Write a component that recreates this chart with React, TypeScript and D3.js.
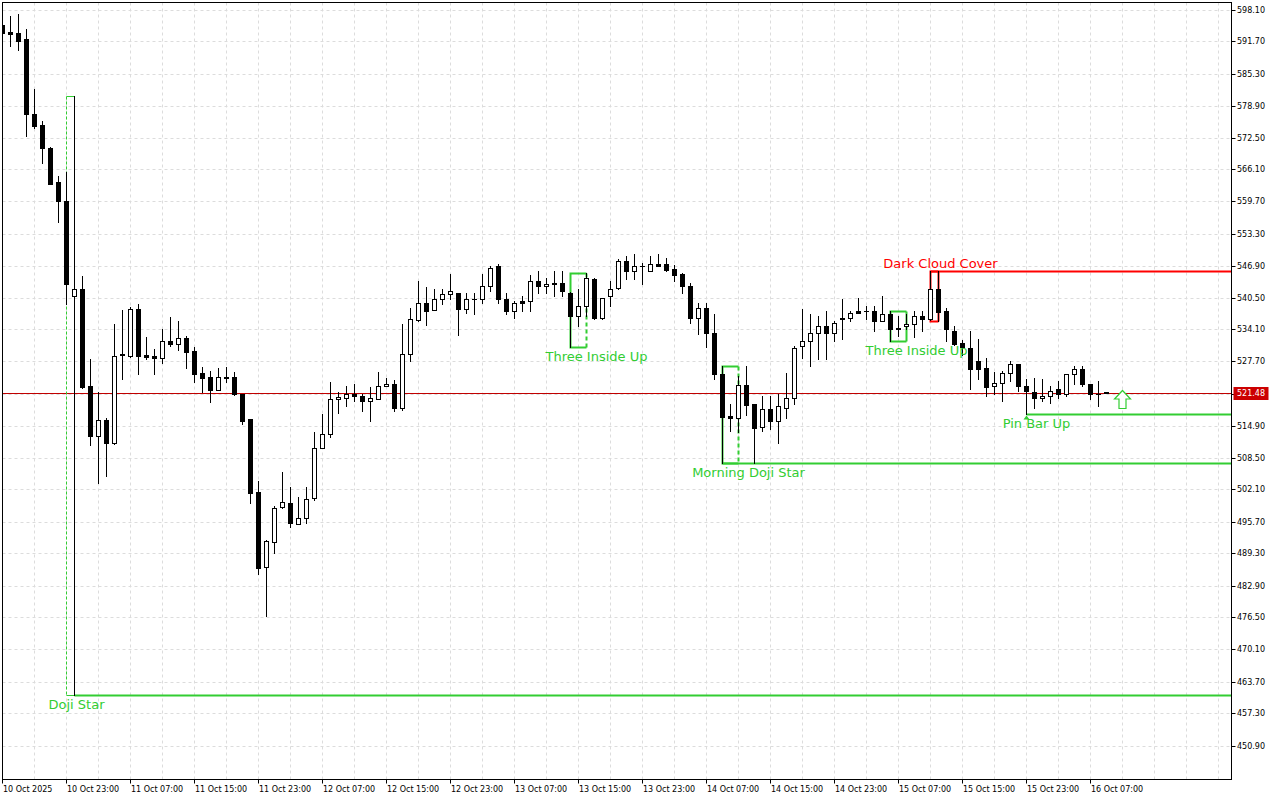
import * as d3 from "d3";
import { useEffect, useRef } from "react";

// hourly bars, first bar = 10 Oct 2025 15:00
const opens = [
  595.0, 593.6, 593.4, 592.2, 577.2, 575.0, 570.5, 563.6, 559.8, 540.9,
  542.1, 522.8, 512.8, 516.0, 511.4, 529.1, 528.8, 538.3, 529.0, 528.8,
  528.5, 531.9, 531.2, 532.4, 529.8, 525.4, 524.6, 522.0, 524.6, 524.6,
  521.3, 516.1, 501.6, 486.6, 491.6, 498.5, 499.3, 495.2, 496.5, 500.3,
  510.3, 513.1, 520.1, 520.5, 521.2, 520.9, 519.8, 520.3, 522.7, 523.3,
  518.5, 529.1, 536.0, 539.5, 538.0, 540.1, 541.3, 541.5, 538.3, 540.3,
  540.1, 542.7, 546.8, 540.1, 537.7, 539.7, 539.7, 543.9, 542.9, 543.1,
  543.5, 541.5, 536.9, 538.7, 544.3, 536.5, 540.7, 542.5, 547.9, 545.7,
  546.9, 545.9, 547.3, 547.1, 546.2, 545.2, 542.7, 536.5, 538.5, 533.5,
  525.1, 516.8, 516.5, 523.0, 519.2, 514.5, 518.1, 515.9, 518.5, 520.5,
  530.7, 531.7, 533.5, 534.9, 533.5, 536.1, 536.5, 537.7, 537.9, 537.9,
  535.9, 537.1, 534.5, 534.7, 535.3, 536.7, 536.3, 542.1, 537.7, 533.9,
  531.5, 530.5, 527.7, 526.4, 522.9, 523.5, 525.5, 527.1, 522.7, 521.5,
  520.5, 520.9, 522.1, 521.1, 525.3, 526.1, 523.1, 521.3, 521.5,
];
const highs = [
  595.3, 596.8, 597.2, 594.2, 582.2, 575.8, 570.6, 564.8, 565.6, 580.9,
  544.7, 528.1, 521.6, 516.4, 535.2, 538.0, 538.6, 539.3, 532.6, 530.2,
  534.2, 536.6, 535.8, 532.8, 530.6, 526.6, 525.8, 526.4, 526.6, 525.6,
  521.3, 516.2, 503.8, 492.0, 498.8, 505.6, 502.6, 500.7, 502.7, 513.6,
  517.1, 523.6, 521.5, 522.8, 523.1, 521.3, 522.6, 525.6, 524.4, 524.0,
  535.2, 538.5, 543.9, 542.6, 542.2, 542.2, 545.2, 541.5, 541.5, 541.5,
  545.3, 546.8, 547.3, 541.5, 539.9, 540.9, 545.0, 545.7, 544.4, 545.7,
  545.7, 541.6, 542.1, 545.5, 544.5, 540.5, 543.9, 548.1, 548.9, 549.1,
  547.5, 548.7, 549.1, 548.5, 547.0, 545.4, 543.5, 539.5, 539.5, 537.3,
  526.8, 519.3, 524.8, 526.9, 519.2, 520.9, 520.9, 521.1, 525.5, 530.7,
  538.1, 537.1, 536.7, 537.7, 535.9, 540.3, 537.9, 540.5, 538.9, 538.9,
  540.9, 537.9, 536.7, 537.3, 537.7, 537.9, 545.9, 545.9, 538.5, 534.7,
  532.0, 533.7, 532.1, 528.5, 525.6, 525.9, 527.7, 527.3, 524.3, 524.5,
  524.1, 522.9, 523.7, 525.3, 526.9, 526.9, 523.1, 523.7, 521.6,
];
const lows = [
  593.2, 590.8, 590.0, 572.8, 574.4, 567.4, 563.2, 555.6, 539.3, 461.0,
  522.4, 511.0, 503.4, 504.8, 511.1, 524.2, 528.6, 525.1, 528.1, 525.2,
  527.4, 530.8, 530.0, 526.4, 523.6, 521.6, 519.6, 522.0, 523.6, 521.0,
  515.2, 499.4, 485.1, 476.8, 489.3, 498.3, 494.7, 495.1, 495.3, 500.0,
  510.3, 512.6, 517.4, 518.8, 519.8, 517.8, 515.8, 520.3, 522.7, 517.8,
  518.0, 527.8, 535.8, 535.0, 538.0, 539.1, 540.1, 533.0, 537.4, 537.3,
  539.5, 541.7, 539.5, 537.3, 536.5, 537.7, 537.7, 541.5, 541.5, 540.7,
  540.9, 530.6, 534.8, 536.7, 536.3, 536.3, 538.7, 542.1, 544.3, 544.3,
  543.1, 545.7, 546.7, 545.7, 543.8, 541.5, 535.5, 533.3, 530.6, 524.3,
  507.3, 513.9, 513.6, 517.0, 507.3, 513.9, 514.2, 511.5, 516.5, 519.3,
  528.5, 526.7, 528.1, 528.1, 531.9, 532.1, 535.9, 537.5, 536.3, 533.9,
  535.8, 531.7, 532.7, 534.1, 532.5, 533.9, 536.0, 535.7, 531.7, 531.0,
  529.0, 522.1, 524.3, 520.9, 521.1, 519.9, 523.7, 521.9, 517.1, 518.5,
  519.7, 519.5, 520.5, 520.9, 523.1, 522.9, 520.1, 518.7, 521.4,
];
const closes = [
  593.4, 593.2, 591.8, 577.2, 574.8, 570.4, 563.3, 559.8, 543.1, 542.1,
  522.6, 512.8, 516.0, 511.4, 528.9, 529.0, 538.3, 528.8, 528.6, 528.4,
  531.9, 531.2, 532.4, 529.6, 525.2, 524.4, 522.0, 524.6, 524.5, 521.2,
  515.9, 501.4, 486.4, 491.8, 498.4, 499.5, 495.3, 496.5, 500.1, 510.3,
  513.1, 520.1, 520.6, 521.2, 520.8, 519.8, 520.4, 522.7, 523.3, 518.4,
  529.1, 536.1, 539.5, 537.8, 540.1, 541.3, 541.7, 538.2, 540.2, 540.1,
  542.7, 546.5, 540.1, 537.7, 539.5, 539.5, 543.9, 542.9, 543.3, 543.5,
  541.7, 536.7, 538.7, 544.5, 536.5, 540.5, 542.3, 547.9, 545.7, 546.9,
  546.7, 547.3, 546.9, 546.0, 545.0, 542.7, 536.5, 538.5, 533.5, 525.3,
  516.6, 516.5, 523.0, 519.0, 514.4, 518.1, 515.8, 518.7, 520.5, 530.5,
  531.7, 533.5, 534.9, 533.5, 535.5, 536.5, 537.5, 537.5, 537.7, 535.9,
  537.1, 534.3, 534.3, 535.3, 536.7, 536.3, 542.1, 537.6, 534.1, 531.3,
  530.6, 526.1, 526.3, 522.6, 523.5, 525.5, 527.1, 522.7, 521.7, 520.5,
  520.9, 521.7, 521.3, 525.3, 526.1, 523.1, 521.1, 521.1, 521.48,
];

const priceTicks = [
  598.1, 591.7, 585.3, 578.9, 572.5, 566.1, 559.7, 553.3, 546.9, 540.5,
  534.1, 527.7, 521.3, 514.9, 508.5, 502.1, 495.7, 489.3, 482.9, 476.5,
  470.1, 463.7, 457.3, 450.9,
];
// one label every 8 bars
const timeLabels = [
  "10 Oct 2025", "10 Oct 23:00", "11 Oct 07:00", "11 Oct 15:00", "11 Oct 23:00",
  "12 Oct 07:00", "12 Oct 15:00", "12 Oct 23:00", "13 Oct 07:00", "13 Oct 15:00",
  "13 Oct 23:00", "14 Oct 07:00", "14 Oct 15:00", "14 Oct 23:00", "15 Oct 07:00",
  "15 Oct 15:00", "15 Oct 23:00", "16 Oct 07:00",
];
const lastPrice = 521.48;

const patternNames = ["Doji Star", "Three Inside Up", "Morning Doji Star", "Three Inside Up", "Dark Cloud Cover", "Pin Bar Up"];
const patternFrom = [8, 71, 90, 111, 116, 128];
const patternTo = [9, 73, 92, 113, 117, 128];
const patternBull = [true, true, true, true, false, true];
const signalBar = 140;

const W = 1280, H = 800;
const L = 2.5, R = 1231.5, T = 2.5, B = 779.5;
const GREEN = "#32cd32", RED = "#ff0000";
const FONT = "DejaVu Sans, Verdana, sans-serif";

const App = () => {
  const ref: any = useRef();

  useEffect(() => {
    const svg = d3.select(ref.current);
    svg.selectAll("*").remove();

    const x = d3.scaleLinear().domain([0, 1]).range([2.5, 10.5]);
    const y = d3.scaleLinear().domain([598.1, 450.9]).range([9.5, 745.5]);
    const ry = (v: number) => Math.round(y(v));

    svg.append("rect").attr("width", W).attr("height", H).attr("fill", "#fff");

    svg.append("defs").append("clipPath").attr("id", "plot")
      .append("rect").attr("x", L).attr("y", T).attr("width", R - L).attr("height", B - T);

    // grid
    const grid = svg.append("g").attr("stroke", "#dcdcdc").attr("stroke-dasharray", "3,3");
    d3.range(4, 154, 4).forEach((i) => {
      if (x(i) < R) grid.append("line").attr("x1", x(i)).attr("x2", x(i)).attr("y1", T).attr("y2", B);
    });
    priceTicks.forEach((p) => {
      grid.append("line").attr("x1", L).attr("x2", R).attr("y1", ry(p) + 0.5).attr("y2", ry(p) + 0.5);
    });

    const plot = svg.append("g").attr("clip-path", "url(#plot)");

    // current price line
    plot.append("line").attr("x1", L).attr("x2", R)
      .attr("y1", ry(lastPrice) + 0.5).attr("y2", ry(lastPrice) + 0.5)
      .attr("stroke", "#c00000").attr("stroke-width", 1);

    // pattern boxes and levels (under candles)
    const ann = plot.append("g").attr("fill", "none");
    patternNames.forEach((name, k) => {
      const a = patternFrom[k], b = patternTo[k];
      const col = patternBull[k] ? GREEN : RED;
      const hi = d3.max(highs.slice(a, b + 1)) as number;
      const lo = d3.min(lows.slice(a, b + 1)) as number;
      const x0 = x(a), x1 = x(b), yh = ry(hi) + 0.5, yl = ry(lo) + 0.5;
      const level = patternBull[k] ? yl : yh;
      if (name === "Doji Star") {
        ann.append("line").attr("x1", x0).attr("x2", x0).attr("y1", yh).attr("y2", yl)
          .attr("stroke", col).attr("stroke-dasharray", "3,2");
        ann.append("line").attr("x1", x0).attr("x2", x1).attr("y1", yh).attr("y2", yh).attr("stroke", col);
        ann.append("line").attr("x1", x0).attr("x2", x1).attr("y1", yl).attr("y2", yl).attr("stroke", col);
        ann.append("line").attr("x1", x1).attr("x2", R).attr("y1", level).attr("y2", level)
          .attr("stroke", col).attr("stroke-width", 2);
      } else if (a !== b) {
        const dashedRight = name !== "Three Inside Up" || a < 100;
        ann.append("path").attr("d", `M${x1},${yh}H${x0}V${yl}H${x1}`)
          .attr("stroke", col).attr("stroke-width", 2);
        ann.append("line").attr("x1", x1).attr("x2", x1).attr("y1", yh).attr("y2", yl)
          .attr("stroke", col).attr("stroke-width", 2)
          .attr("stroke-dasharray", dashedRight && name !== "Dark Cloud Cover" ? "4,3" : null);
        if (name !== "Three Inside Up") {
          ann.append("line").attr("x1", x0).attr("x2", R).attr("y1", level).attr("y2", level)
            .attr("stroke", col).attr("stroke-width", 2);
        }
      } else {
        ann.append("line").attr("x1", x0).attr("x2", R).attr("y1", level).attr("y2", level)
          .attr("stroke", col).attr("stroke-width", 2);
        ann.append("path").attr("d", `M${x0},${level + 1}l3,4h-6z`).attr("fill", col);
      }
    });

    // candles
    const cg = plot.append("g");
    opens.forEach((o, i) => {
      const c = closes[i];
      const cx = x(i);
      const yh = ry(highs[i]), yl = ry(lows[i]);
      const yt = ry(Math.max(o, c)), yb = ry(Math.min(o, c));
      cg.append("rect").attr("x", cx - 0.5).attr("y", yh).attr("width", 1).attr("height", Math.max(1, yl - yh + 1)).attr("fill", "#000");
      const bh = Math.max(1, yb - yt + 1);
      cg.append("rect").attr("x", cx - 2.5).attr("y", yt).attr("width", 5).attr("height", bh).attr("fill", "#000");
      if (c > o && bh > 2) {
        cg.append("rect").attr("x", cx - 1.5).attr("y", yt + 1).attr("width", 3).attr("height", bh - 2).attr("fill", "#fff");
      }
    });

    // signal arrow
    const ax = x(signalBar), ay = ry(lastPrice) - 2.5;
    plot.append("path")
      .attr("d", `M${ax},${ay}L${ax + 8},${ay + 8.5}H${ax + 3.5}V${ay + 18}H${ax - 3.5}V${ay + 8.5}H${ax - 8}Z`)
      .attr("fill", "#fff").attr("stroke", GREEN).attr("stroke-width", 1.2);

    // pattern labels
    const labelDx = [2, 10, 10, 10, 2, 10];
    patternNames.forEach((name, k) => {
      const a = patternFrom[k], b = patternTo[k];
      const hi = d3.max(highs.slice(a, b + 1)) as number;
      const lo = d3.min(lows.slice(a, b + 1)) as number;
      const ty = patternBull[k] ? ry(lo) + 9.5 : ry(hi) - 7.5;
      plot.append("text").attr("x", x(b) + labelDx[k]).attr("y", ty)
        .attr("text-anchor", "middle").attr("dominant-baseline", "central")
        .attr("font-family", FONT).attr("font-size", 13)
        .attr("fill", patternBull[k] ? GREEN : RED).text(name);
    });

    // frame
    svg.append("rect").attr("x", L).attr("y", T).attr("width", R - L).attr("height", B - T)
      .attr("fill", "none").attr("stroke", "#000");

    // price axis
    const pa = svg.append("g").attr("font-family", FONT).attr("font-size", 8);
    priceTicks.forEach((p) => {
      const yy = ry(p) + 0.5;
      pa.append("line").attr("x1", R).attr("x2", R + 4).attr("y1", yy).attr("y2", yy).attr("stroke", "#000");
      pa.append("text").attr("x", R + 5.5).attr("y", yy).attr("dominant-baseline", "central")
        .attr("fill", "#000").text(d3.format(".2f")(p));
    });
    const py = ry(lastPrice) + 0.5;
    pa.append("rect").attr("x", R + 2).attr("y", py - 6.5).attr("width", 35).attr("height", 13).attr("fill", "#cc0000");
    pa.append("text").attr("x", R + 5.5).attr("y", py).attr("dominant-baseline", "central")
      .attr("fill", "#fff").text(d3.format(".2f")(lastPrice));

    // time axis
    const ta = svg.append("g").attr("font-family", FONT).attr("font-size", 8);
    timeLabels.forEach((lab, k) => {
      const xx = x(k * 8);
      ta.append("line").attr("x1", xx).attr("x2", xx).attr("y1", B).attr("y2", B + 4).attr("stroke", "#000");
      ta.append("text").attr("x", xx + 0.5).attr("y", B + 9.5).attr("dominant-baseline", "central")
        .attr("fill", "#000").text(lab);
    });
  }, []);

  return (
    <svg ref={ref} width={W} height={H} style={{ position: "absolute", left: 0, top: 0, display: "block" }} />
  );
};

export default App;
